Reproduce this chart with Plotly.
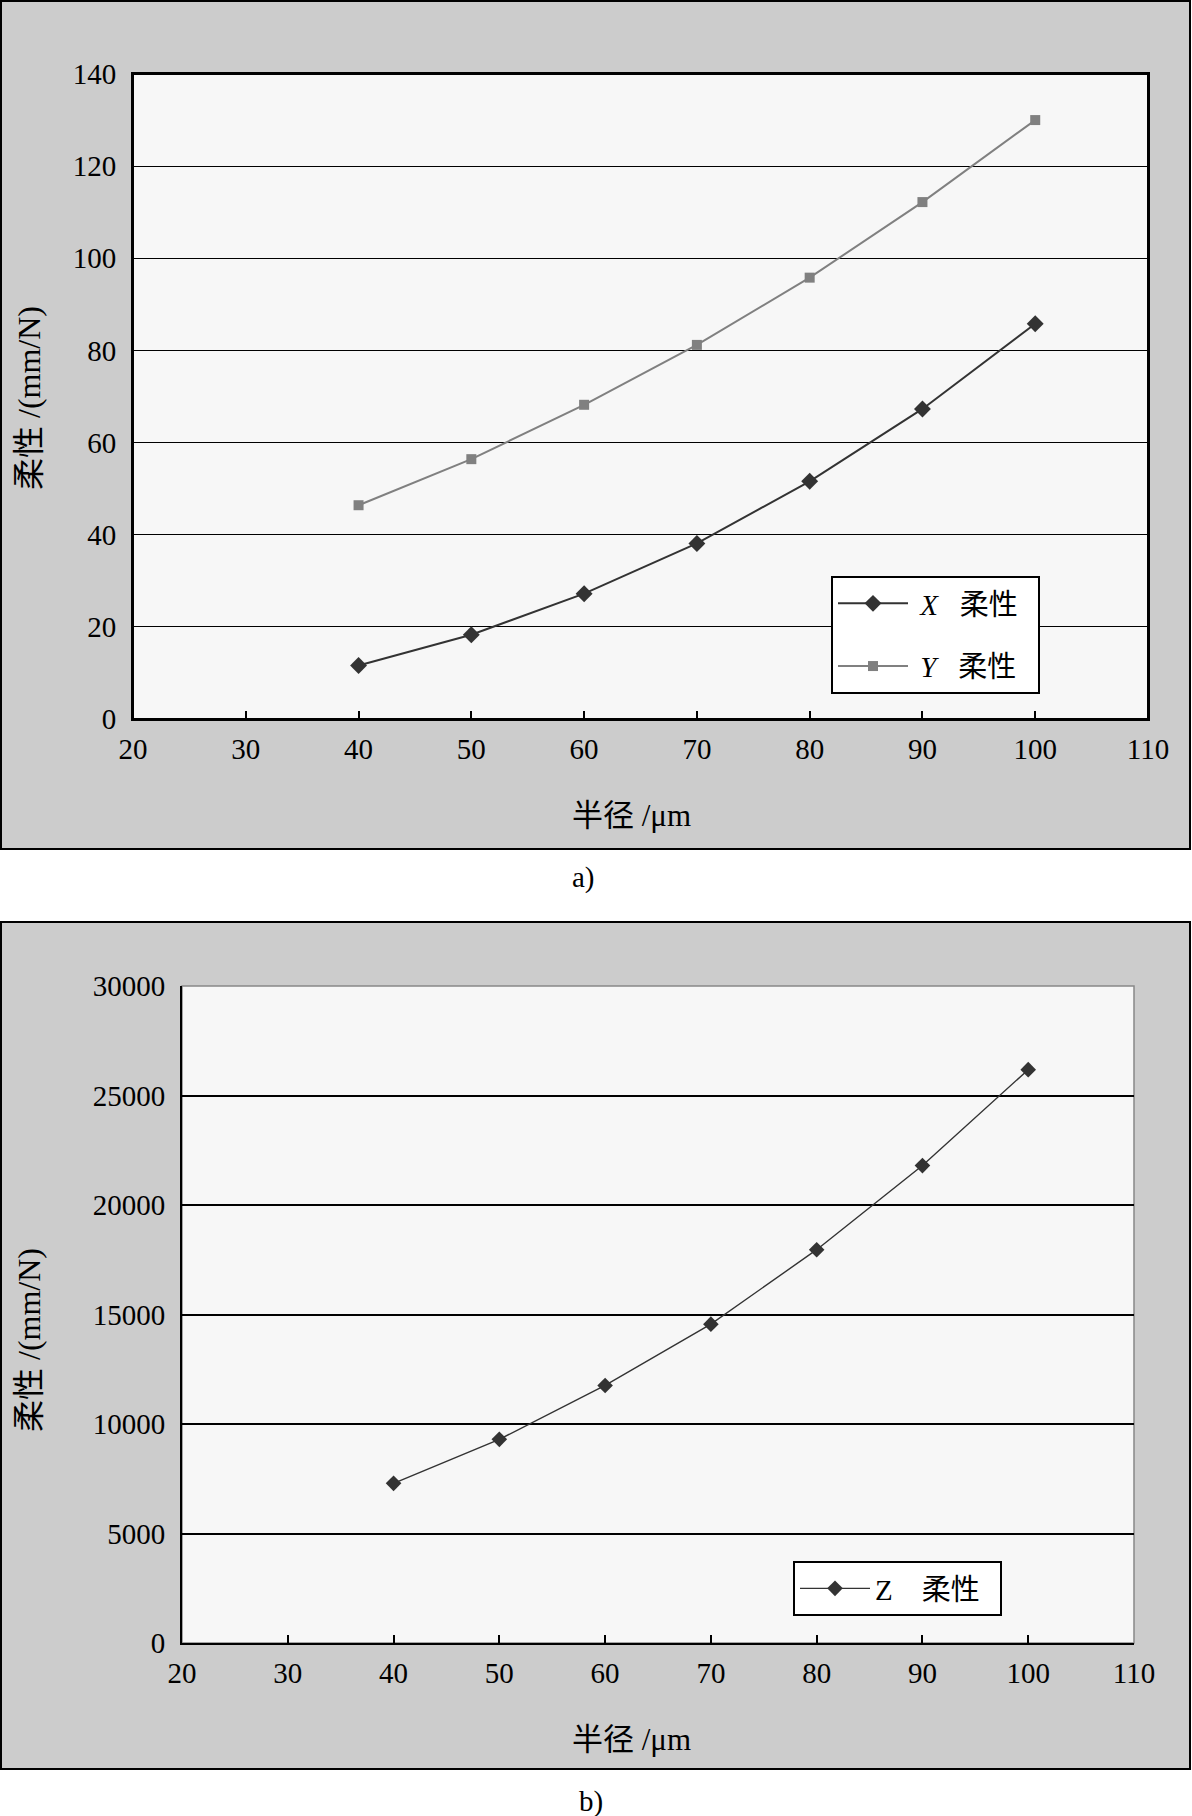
import plotly.graph_objects as go

W, H = 1192, 1816

# ---- data ----
radius = [40, 50, 60, 70, 80, 90, 100]
x_flex = [11.6, 18.3, 27.2, 38.1, 51.6, 67.3, 85.8]
y_flex = [46.4, 56.4, 68.2, 81.2, 95.8, 112.2, 130.0]
z_flex = [7290, 9300, 11760, 14560, 17960, 21800, 26180]

x_title = "半径 /μm"
y_title = "柔性 /(mm/N)"
name_x = "&nbsp;<i>X</i>&nbsp;&nbsp;&nbsp;柔性&nbsp;&nbsp;"
name_y = "&nbsp;<i>Y</i>&nbsp;&nbsp;&nbsp;柔性&nbsp;&nbsp;"
name_z = "Z&nbsp;&nbsp;&nbsp;&nbsp;柔性&nbsp;&nbsp;"

SERIF = "Liberation Serif, Noto Sans CJK SC"
FS = 29


def px(x):
    return x / W


def py(y):
    return 1 - y / H


fig = go.Figure()

fig.add_trace(go.Scatter(
    x=radius, y=x_flex, mode="lines+markers", name=name_x,
    line=dict(color="#333333", width=2),
    marker=dict(symbol="diamond", size=13, color="#333333"),
    xaxis="x", yaxis="y", legend="legend", legendgroup="gx"))
fig.add_trace(go.Scatter(
    x=radius, y=y_flex, mode="lines+markers", name=name_y,
    line=dict(color="#808080", width=2),
    marker=dict(symbol="square", size=10, color="#808080"),
    xaxis="x", yaxis="y", legend="legend", legendgroup="gy"))
fig.add_trace(go.Scatter(
    x=radius, y=z_flex, mode="lines+markers", name=name_z,
    line=dict(color="#333333", width=1.4),
    marker=dict(symbol="diamond", size=12, color="#333333"),
    xaxis="x2", yaxis="y2", legend="legend2"))

# plot-area pixel boxes
A = dict(l=133, r=1148, t=74, b=719)
B = dict(l=182, r=1134, t=986, b=1643)

xcommon = dict(range=[20, 110], tick0=20, dtick=10, showgrid=False, zeroline=False,
               showline=True, linecolor="black", linewidth=2,
               ticks="inside", ticklen=8, tickwidth=1.5, tickcolor="black",
               tickfont=dict(family=SERIF, size=FS, color="black"),
               ticklabelstandoff=3, fixedrange=True, automargin=False)
ycommon = dict(showgrid=True, gridcolor="black", zeroline=False,
               showline=True, linecolor="black", linewidth=2, ticks="",
               tickfont=dict(family=SERIF, size=FS, color="black"),
               tickformat="d", ticklabelstandoff=9, fixedrange=True, automargin=False)

fig.update_layout(
    width=W, height=H, autosize=False,
    margin=dict(l=0, r=0, t=0, b=0, pad=0, autoexpand=False),
    paper_bgcolor="white",
    plot_bgcolor="rgba(0,0,0,0)",
    xaxis=dict(domain=[px(A["l"]), px(A["r"])], anchor="y", mirror=True, **xcommon),
    yaxis=dict(domain=[py(A["b"]), py(A["t"])], anchor="x", range=[0, 140], dtick=20,
               gridwidth=1.2, mirror=True, **ycommon),
    xaxis2=dict(domain=[px(B["l"]), px(B["r"])], anchor="y2", **xcommon),
    yaxis2=dict(domain=[py(B["b"]), py(B["t"])], anchor="x2", range=[0, 30000], dtick=5000,
                gridwidth=2, **ycommon),
    legend=dict(x=px(831), y=py(576), xanchor="left", yanchor="top",
                bgcolor="white", bordercolor="black", borderwidth=2,
                font=dict(family=SERIF, size=FS, color="black"),
                tracegroupgap=22, itemwidth=70),
    legend2=dict(x=px(793), y=py(1561), xanchor="left", yanchor="top",
                 bgcolor="white", bordercolor="black", borderwidth=2,
                 font=dict(family=SERIF, size=FS, color="black"), itemwidth=70),
    showlegend=True,
)

shapes = [
    # outer gray panels
    dict(type="rect", xref="paper", yref="paper", x0=px(1), x1=px(1190), y0=py(849), y1=py(1),
         fillcolor="#cccccc", line=dict(color="black", width=2), layer="below"),
    dict(type="rect", xref="paper", yref="paper", x0=px(1), x1=px(1190), y0=py(1769), y1=py(922),
         fillcolor="#cccccc", line=dict(color="black", width=2), layer="below"),
    # plot backgrounds
    dict(type="rect", xref="paper", yref="paper", x0=px(A["l"]), x1=px(A["r"]), y0=py(A["b"]), y1=py(A["t"]),
         fillcolor="#f7f7f7", line=dict(color="black", width=2), layer="below"),
    dict(type="rect", xref="paper", yref="paper", x0=px(B["l"]), x1=px(B["r"]), y0=py(B["b"]), y1=py(B["t"]),
         fillcolor="#f7f7f7", line=dict(color="#888888", width=1.5), layer="below"),
]
fig.update_layout(shapes=shapes)

ann_font = dict(family=SERIF, size=31, color="black")
yt_font = dict(family=SERIF, size=32, color="black")
lab_font = dict(family=SERIF, size=29, color="black")
common = dict(xref="paper", yref="paper", showarrow=False, xanchor="center", yanchor="middle")
fig.update_layout(annotations=[
    dict(text=x_title, x=px(631), y=py(816), font=ann_font, **common),
    dict(text=y_title, x=px(29), y=py(398), font=yt_font, textangle=-90, **common),
    dict(text="a)", x=px(583), y=py(877), font=lab_font, **common),
    dict(text=x_title, x=px(631), y=py(1739), font=ann_font, **common),
    dict(text=y_title, x=px(29), y=py(1340), font=yt_font, textangle=-90, **common),
    dict(text="b)", x=px(591), y=py(1801), font=lab_font, **common),
])

fig.write_html("out.html")
